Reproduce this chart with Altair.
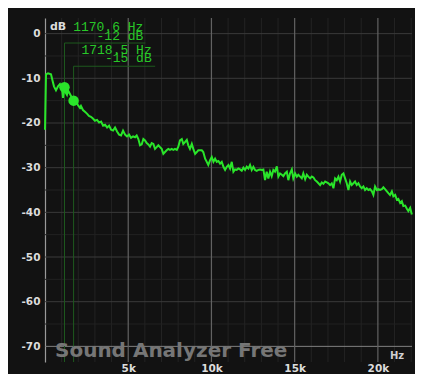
import altair as alt
import pandas as pd

# ---------------- data ----------------
freq_hz = [0, 60, 180, 360, 450, 540, 660, 780, 900, 1020, 1080, 1170, 1260, 1320, 1380, 1500, 1620, 1720,
           1860, 1980, 2100, 2160, 2280, 2400, 2520, 2640, 2760, 2880, 3000, 3130, 3250, 3370, 3490, 3610,
           3730, 3850, 3970, 4090, 4210, 4330, 4450, 4570, 4690, 4810, 4930, 5050, 5170, 5290,
           5410, 5510, 5610, 5710, 5810, 5910, 6010, 6110, 6210, 6310, 6410, 6510, 6610, 6710, 6810, 6910,
           7010, 7110, 7210, 7310, 7410, 7510, 7610, 7710, 7810, 7920, 8010, 8110, 8220, 8310, 8410, 8520,
           8610, 8710, 8820, 8910, 9020, 9120, 9210, 9420, 9510, 9620, 9720, 9810, 9920, 10020, 10120, 10220,
           10320, 10420, 10520, 10620, 10720, 10820, 10920, 11020, 11120, 11220, 11320, 11420, 11520, 11620,
           11720, 11820, 11920, 12020, 12120, 12220, 12320, 12420, 12520, 12620, 12720, 12820, 12920, 13020,
           13120, 13220, 13320, 13420, 13520, 13620, 13720, 13820, 13930, 14020, 14120, 14230, 14320, 14420,
           14530, 14620, 14720, 14830, 14920, 15030, 15130, 15220, 15330, 15430, 15520, 15630, 15730, 15820,
           15930, 16030, 16130, 16230, 16330, 16430, 16530, 16630, 16730, 16830, 16930, 17030, 17130, 17230,
           17330, 17430, 17530, 17630, 17730, 17830, 17930, 18030, 18130, 18230, 18330, 18430, 18530, 18630,
           18730, 18830, 18930, 19030, 19130, 19230, 19330, 19430, 19530, 19640, 19730, 19830, 19940, 20030,
           20130, 20240, 20330, 20430, 20540, 20630, 20730, 20840, 20930, 21040, 21140, 21230, 21340, 21440,
           21530, 21640, 21740, 21830, 21940, 22040]
level_db = [-21.5, -9.1, -8.9, -9.1, -10.5, -11.8, -12.7, -11.8, -11.3, -12.2, -14.4, -12.0, -13.3, -13.7, -12.7,
            -13.5, -14.4, -15.0, -15.3, -16.0, -16.6, -16.2, -17.1, -17.5, -17.9, -18.4, -18.6, -19.0, -19.5,
            -19.3, -19.9, -19.7, -20.6, -20.4, -21.0, -20.6, -21.5, -21.7, -21.0, -21.9, -22.6, -22.8, -21.7,
            -22.6, -23.0, -22.6, -23.3, -23.0,
            -23.2, -22.8, -23.6, -25.0, -24.8, -23.6, -23.9, -24.5, -24.8, -25.3, -24.5, -24.7, -25.8, -25.4,
            -25.0, -25.4, -25.8, -26.9, -26.5, -26.1, -25.8, -26.0, -25.8, -26.0, -25.8, -26.0, -25.3, -23.9,
            -23.6, -24.7, -24.3, -23.8, -25.0, -25.8, -24.7, -25.8, -26.9, -26.5, -26.1, -26.1, -26.5, -28.0,
            -28.7, -29.4, -28.3, -27.6, -28.7, -28.0, -28.7, -28.5, -29.1, -28.7, -29.8, -30.5, -29.8, -29.4,
            -30.2, -28.7, -30.9, -30.4, -30.5, -30.2, -30.4, -30.7, -30.0, -30.5, -29.8, -30.2, -29.4, -30.5,
            -29.8, -30.5, -30.7, -30.5, -30.4, -30.5, -30.4, -32.8, -30.9, -32.4, -30.9, -31.9, -30.5, -30.9,
            -29.7, -32.0, -31.3, -31.6, -31.9, -31.3, -30.9, -32.8, -31.3, -30.4, -32.4, -31.3, -32.0, -31.6,
            -32.0, -32.4, -31.3, -32.6, -31.6, -32.0, -32.4, -32.0, -32.2, -32.8, -33.1, -33.5, -33.9, -33.3,
            -33.6, -33.1, -33.3, -33.5, -33.9, -33.5, -34.6, -32.4, -32.8, -32.0, -33.1, -31.6, -31.3, -32.4,
            -33.5, -35.0, -33.1, -33.9, -33.5, -33.1, -33.9, -33.5, -34.2, -34.6, -34.2, -35.0, -34.6, -35.0,
            -34.8, -35.3, -36.1, -34.2, -35.0, -34.8, -35.0, -34.8, -34.4, -34.8, -35.3, -35.7, -36.1, -35.3,
            -36.4, -36.1, -37.2, -37.0, -37.9, -37.5, -38.6, -38.5, -39.2, -39.7, -39.0, -40.5]

cursor_hz = [1170.6, 1718.5]
cursor_db = [-12, -15]
cursor_freq_text = ["1170.6 Hz", "1718.5 Hz"]
cursor_db_text = ["-12 dB", "-15 dB"]
label_right_hz = [5910, 6410]
label_line_end_hz = [6030, 6620]
label_line_db = [-2.1, -7.3]
label_top_db = [0.66, -4.56]
label_bot_db = [-1.49, -6.41]

x_major = [5000, 10000, 15000, 20000]
x_major_labels = ["5k", "10k", "15k", "20k"]
x_minor = [1000, 2000, 3000, 4000, 6000, 7000, 8000, 9000, 11000, 12000, 13000, 14000,
           16000, 17000, 18000, 19000, 21000, 22000]
y_major = [0, -10, -20, -30, -40, -50, -60]
y_bottom_line = [-70]
y_minor = [-5, -15, -25, -35, -45, -55, -65]
y_ticks = [0, -10, -20, -30, -40, -50, -60, -70]

X_DOMAIN = [0, 22050]
Y_DOMAIN = [-73.5, 3.5]

PLOT_W, PLOT_H = 367, 344

GREEN = "#2ae52a"
TEXT_GREEN = "#28c828"
LINE_GREEN = "#1e5a1e"
AXIS_FONT = "DejaVu Sans"

# ---------------- tables ----------------
spec_df = pd.DataFrame({"hz": freq_hz, "db": level_db})
cur_df = pd.DataFrame({"hz": cursor_hz, "db": cursor_db, "ftxt": cursor_freq_text, "dtxt": cursor_db_text,
                       "rhz": label_right_hz, "ehz": label_line_end_hz, "ldb": label_line_db,
                       "tdb": label_top_db, "bdb": label_bot_db})
xmaj_df = pd.DataFrame({"v": x_major})
xmin_df = pd.DataFrame({"v": x_minor})
ymaj_df = pd.DataFrame({"v": y_major})
ybot_df = pd.DataFrame({"v": y_bottom_line})
ymin_df = pd.DataFrame({"v": y_minor})

xs = alt.Scale(domain=X_DOMAIN, nice=False, zero=False)
ys = alt.Scale(domain=Y_DOMAIN, nice=False, zero=False)

label_expr = " : ".join(f"datum.value == {v} ? '{l}'" for v, l in zip(x_major, x_major_labels)) + " : ''"

x_axis = alt.Axis(values=x_major, labelExpr=label_expr, domain=False, ticks=False, grid=False, title=None,
                  labelColor="#dcdcdc", labelFont=AXIS_FONT, labelFontWeight="bold", labelFontSize=10.5,
                  labelPadding=1, labelAngle=0)
y_axis = alt.Axis(values=y_ticks, labelExpr="'' + datum.value", domain=True, domainColor="#9a9a9a",
                  domainWidth=1.2, ticks=False, grid=False, title=None, labelColor="#dcdcdc",
                  labelFont=AXIS_FONT, labelFontWeight="bold", labelFontSize=10.5, labelPadding=5)

xminor = alt.Chart(xmin_df).mark_rule(color="#232323", strokeWidth=1).encode(x=alt.X("v:Q", scale=xs, axis=x_axis))
yminor = alt.Chart(ymin_df).mark_rule(color="#222222", strokeWidth=1).encode(y=alt.Y("v:Q", scale=ys, axis=y_axis))
ymajor = alt.Chart(ymaj_df).mark_rule(color="#3a3a3a", strokeWidth=1).encode(y=alt.Y("v:Q", scale=ys))
ybot = alt.Chart(ybot_df).mark_rule(color="#808080", strokeWidth=1).encode(y=alt.Y("v:Q", scale=ys))
xmajor = alt.Chart(xmaj_df).mark_rule(color="#626262", strokeWidth=1.2).encode(x=alt.X("v:Q", scale=xs))

cur_v = alt.Chart(cur_df).mark_rule(color=LINE_GREEN, strokeWidth=1).encode(
    x=alt.X("hz:Q", scale=xs), y=alt.Y("ldb:Q", scale=ys), y2=alt.value(PLOT_H))
cur_h = alt.Chart(cur_df).mark_rule(color=LINE_GREEN, strokeWidth=1).encode(
    x=alt.X("hz:Q", scale=xs), x2="ehz:Q", y=alt.Y("ldb:Q", scale=ys))

spectrum = alt.Chart(spec_df).mark_line(color=GREEN, strokeWidth=2, interpolate="linear").encode(
    x=alt.X("hz:Q", scale=xs), y=alt.Y("db:Q", scale=ys))

dots = alt.Chart(cur_df).mark_circle(color=GREEN, opacity=1, size=110).encode(
    x=alt.X("hz:Q", scale=xs), y=alt.Y("db:Q", scale=ys))

ftxt = alt.Chart(cur_df).mark_text(align="right", baseline="alphabetic", font="Liberation Mono",
                                   fontSize=13, color=TEXT_GREEN).encode(
    x=alt.X("rhz:Q", scale=xs), y=alt.Y("tdb:Q", scale=ys), text="ftxt:N")
dtxt = alt.Chart(cur_df).mark_text(align="right", baseline="alphabetic", font="Liberation Mono",
                                   fontSize=13, color=TEXT_GREEN).encode(
    x=alt.X("rhz:Q", scale=xs), y=alt.Y("bdb:Q", scale=ys), text="dtxt:N")

db_unit = alt.Chart(pd.DataFrame({"t": ["dB"]})).mark_text(
    align="left", baseline="alphabetic", font=AXIS_FONT, fontWeight="bold", fontSize=11, color="#dcdcdc"
).encode(x=alt.value(5), y=alt.value(12), text="t:N")
hz_unit = alt.Chart(pd.DataFrame({"t": ["Hz"]})).mark_text(
    align="left", baseline="alphabetic", font=AXIS_FONT, fontWeight="bold", fontSize=10, color="#cfcfcf"
).encode(x=alt.value(345), y=alt.value(341), text="t:N")
watermark = alt.Chart(pd.DataFrame({"t": ["Sound Analyzer Free"]})).mark_text(
    align="left", baseline="alphabetic", font=AXIS_FONT, fontWeight="bold", fontSize=20, color="#767676"
).encode(x=alt.value(10), y=alt.value(339), text="t:N")

chart = alt.layer(
    xminor, yminor, ymajor, ybot, xmajor, cur_v, cur_h, watermark, spectrum, dots, ftxt, dtxt, db_unit, hz_unit
).properties(
    width=PLOT_W, height=PLOT_H, background="#121212",
    padding={"left": 37, "top": 10, "right": 3, "bottom": 12},
    autosize=alt.AutoSizeParams(type="none"),
).configure_view(stroke=None)

chart.save("out.html", embed_options={"renderer": "svg", "actions": False})
